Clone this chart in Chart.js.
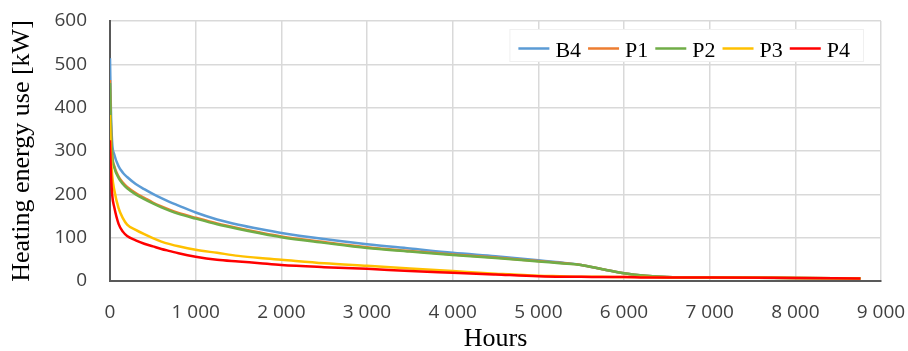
<!DOCTYPE html>
<html>
<head>
<meta charset="utf-8">
<script src="https://cdn.jsdelivr.net/npm/chart.js@4"></script>
<style>
body{margin:0;background:#fff;}
</style>
</head>
<body>
<canvas id="myChart" width="908" height="351"></canvas>
<script>
// duration curves, values
var hours=[0,10,25,50,100,150,200,300,400,500,600,700,800,1000,1250,1500,1750,2000,2500,3000,3500,4000,4500,5000,5250,5500,5750,6000,6250,6500,7000,8000,8760];
var b4=[514,400,320,292,265,250,240,224,212,201,191,182,174,158,142,130,120,111,97,85,75,65,57,48,43,37,27,18,12,9,8,7,6];
var p1=[464,365,293,265,241,227,217,203,192,181,172,164,157,146,133,122,112,103,90,78,69,61,54,46,42,37,27,18,12,9,8,7,6];
var p2=[457,360,290,262,238,224,214,200,189,179,170,162,155,144,131,120,110,101,88,76,68,60,53,45,41,37,27,18,12,9,8,7,6];
var p3=[383,300,245,210,168,145,130,118,108,99,91,85,80,72,65,58,53,49,41,35,29,23,17,12,11,10,10,9,9,8,8,7,6];
var p4=[325,255,200,170,132,114,104,94,86,80,74,69,64,56,49,45,41,37,32,28,23,19,15,11,10,10,9,9,8,8,8,7,6];
var names=["B4","P1","P2","P3","P4"];
var colors=["#5B9BD5","#ED7D31","#70AD47","#FFC000","#FF0000"];
var yTicks=[0,100,200,300,400,500,600];
var xTicks=[0,1000,2000,3000,4000,5000,6000,7000,8000,9000];

function pts(v){var a=[];for(var i=0;i<hours.length;i++){a.push({x:hours[i],y:v[i]});}return a;}
var series=[b4,p1,p2,p3,p4];
var ds=[];
for(var i=0;i<series.length;i++){
  ds.push({label:names[i],data:pts(series[i]),borderColor:colors[i],backgroundColor:colors[i],
    borderWidth:2.5,pointRadius:0,cubicInterpolationMode:'monotone',order:5-i});
}

// legend box drawn inside the plot, like the excel one
var boxLegend={
  id:'boxLegend',
  afterDatasetsDraw:function(chart){
    var c=chart.ctx, a=chart.chartArea;
    c.save();
    c.font='22px "Liberation Serif", "Times New Roman", serif';
    var w=9;
    for(var i=0;i<names.length;i++){w+=31+6+c.measureText(names[i]).width+(i<names.length-1?7:14);}
    var right=a.right-17, left=right-w, top=a.top+8;
    c.fillStyle='#fff';
    c.fillRect(left,top,w,33);
    c.strokeStyle='#f0f0f0';c.lineWidth=1;
    c.strokeRect(left+0.5,top+0.5,w-1,32);
    var x=left+9;
    for(var i=0;i<names.length;i++){
      c.strokeStyle=colors[i];c.lineWidth=2.5;
      c.beginPath();c.moveTo(x,top+19.5);c.lineTo(x+31,top+19.5);c.stroke();
      c.fillStyle='#000';c.textBaseline='alphabetic';
      c.fillText(names[i],x+37,top+28);
      x+=31+6+c.measureText(names[i]).width+7;
    }
    c.restore();
  }
};

var ctx=document.getElementById("myChart");
var myChart=new Chart(ctx,{
  type:'line',
  data:{datasets:ds},
  options:{
    responsive:false,animation:false,
    layout:{padding:{left:0,right:27,top:21,bottom:0}},
    plugins:{legend:{display:false},tooltip:{enabled:false}},
    scales:{
      x:{type:'linear',min:0,max:9000,
        afterBuildTicks:function(s){s.ticks=xTicks.map(function(v){return {value:v};});},
        afterFit:function(s){s.height=70;s.paddingLeft=0;s.paddingRight=0;},
        grid:{color:'#d9d9d9',lineWidth:1.5,drawTicks:false},
        border:{color:'#595959',width:2},
        ticks:{padding:20,color:'#404040',font:{family:'"Open Sans"',size:19},maxRotation:0,
          callback:function(v){return String(v).replace(/\B(?=(\d{3})+(?!\d))/g,' ');}},
        title:{display:true,text:'Hours',color:'#000',padding:0,
          font:{family:'"Liberation Serif"',size:26,lineHeight:0.9}}
      },
      y:{min:0,max:600,
        afterBuildTicks:function(s){s.ticks=yTicks.map(function(v){return {value:v};});},
        afterFit:function(s){s.width=110;s.paddingTop=0;s.paddingBottom=0;},
        grid:{color:'#d9d9d9',lineWidth:1.5,drawTicks:false},
        border:{color:'#595959',width:2},
        ticks:{padding:23,color:'#404040',font:{family:'"Open Sans"',size:19}},
        title:{display:true,text:'Heating energy use [kW]',color:'#000',padding:10,
          font:{family:'"Liberation Serif"',size:26,lineHeight:0.9}}
      }
    }
  },
  plugins:[boxLegend]
});
</script>
</body>
</html>
